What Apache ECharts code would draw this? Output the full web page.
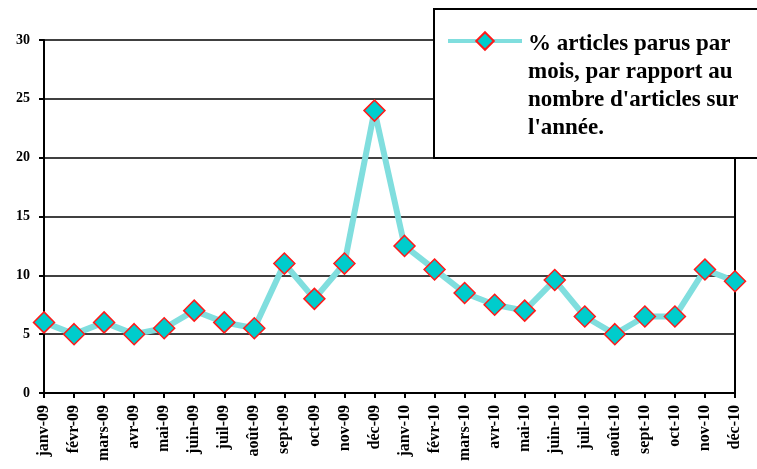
<!DOCTYPE html>
<html>
<head>
<meta charset="utf-8">
<script src="https://cdn.jsdelivr.net/npm/echarts@6/dist/echarts.min.js"></script>
<style>
  html, body { margin: 0; padding: 0; background: #fff; }
  #main { width: 757px; height: 469px; }
</style>
</head>
<body>
<div id="main"></div>
<script>
// données
var mois = ['janv-09', 'févr-09', 'mars-09', 'avr-09', 'mai-09', 'juin-09', 'juil-09', 'août-09',
    'sept-09', 'oct-09', 'nov-09', 'déc-09', 'janv-10', 'févr-10', 'mars-10', 'avr-10',
    'mai-10', 'juin-10', 'juil-10', 'août-10', 'sept-10', 'oct-10', 'nov-10', 'déc-10'];
var pourcentages = [6, 5, 6, 5, 5.5, 7, 6, 5.5, 11, 8, 11, 24, 12.5, 10.5, 8.5, 7.5, 7, 9.6, 6.5, 5, 6.5, 6.5, 10.5, 9.5];
var nomSerie = "% articles parus par\nmois, par rapport au\nnombre d'articles sur\nl'année.";

var police = '"Liberation Serif", "Times New Roman", serif';

var myChart = echarts.init(document.getElementById('main'));
var option = {
    backgroundColor: '#fff',
    animation: false,
    grid: { left: 44, right: 22, top: 40, bottom: 76 },
    xAxis: {
        type: 'category',
        data: mois,
        boundaryGap: false,
        axisLine: { lineStyle: { color: '#000', width: 2 } },
        axisTick: { show: true, length: 5, lineStyle: { color: '#000', width: 2 } },
        axisLabel: {
            interval: 0, rotate: 90, margin: 12,
            color: '#000', fontFamily: police, fontWeight: 'bold', fontSize: 16
        },
        splitLine: { show: false }
    },
    yAxis: [{
        type: 'value',
        min: 0, max: 30, interval: 5,
        axisLine: { show: true, lineStyle: { color: '#000', width: 2 } },
        axisTick: { show: true, length: 5, lineStyle: { color: '#000', width: 2 } },
        axisLabel: { color: '#000', fontFamily: police, fontWeight: 'bold', fontSize: 14, margin: 14 },
        splitLine: { lineStyle: { color: '#000', width: 1.5 } }
    }, {
        type: 'value',
        position: 'right',
        min: 0, max: 30, interval: 5,
        axisLine: { show: true, lineStyle: { color: '#000', width: 2 } },
        axisTick: { show: false },
        axisLabel: { show: false },
        splitLine: { show: false }
    }],
    graphic: [{
        type: 'rect',
        z: 50,
        shape: { x: 434, y: 9, width: 340, height: 149 },
        style: { fill: '#fff', stroke: '#000', lineWidth: 2 }
    }, {
        type: 'text',
        z: 60,
        x: 528,
        y: 30,
        style: {
            text: nomSerie,
            fill: '#000',
            font: 'bold 23px ' + police,
            lineHeight: 28,
            verticalAlign: 'top'
        }
    }],
    legend: {
        z: 60,
        left: 446,
        top: 30,
        padding: 0,
        itemWidth: 74,
        itemHeight: 22,
        formatter: function () { return ''; },
        lineStyle: { width: 4 },
        data: [nomSerie]
    },
    series: [{
        name: nomSerie,
        type: 'line',
        data: pourcentages,
        symbol: 'diamond',
        symbolSize: 21,
        lineStyle: { color: '#80dede', width: 6 },
        itemStyle: { color: '#00cccc', borderColor: '#ff1a1a', borderWidth: 1.5 }
    }]
};
myChart.setOption(option);
</script>
</body>
</html>
